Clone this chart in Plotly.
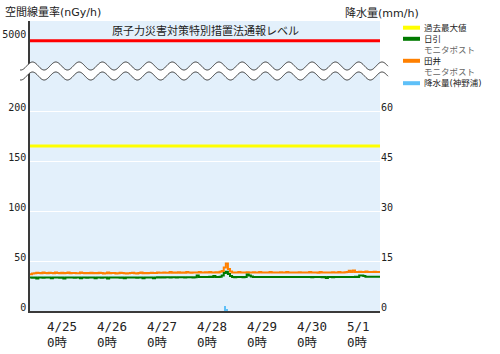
import numpy as np
import pandas as pd
import plotly.graph_objects as go

# ---------------- data ----------------
times = pd.date_range("2013-04-24 16:00", periods=169, freq="h")

# 田井 モニタポスト (nGy/h), hourly
tai = [
    36.8, 37.5, 37.8, 38.2, 37.9, 37.8, 38.4, 37.9,
    37.8, 38.3, 37.9, 37.8, 38.5, 37.9, 37.8, 38.2, 37.8, 37.9, 38.6, 37.8,
    37.9, 38.1, 37.8, 37.8, 38.4, 37.9, 37.8, 38.0, 37.7, 38.3, 37.8, 37.9,
    37.8, 38.2, 37.9, 37.6, 37.8, 38.4, 37.8, 37.9, 38.0, 37.5, 37.8, 38.3,
    37.9, 37.8, 37.4, 37.8, 37.9, 38.2, 37.8, 37.6, 37.9, 38.4, 37.8, 37.9,
    37.7, 38.0, 38.3, 37.9, 38.0, 38.5, 38.2, 38.3, 38.6, 38.2, 38.3, 38.9,
    38.3, 38.4, 38.3, 38.8, 38.3, 38.4, 38.3, 38.9, 38.4, 38.3, 38.6, 38.4,
    38.5, 38.9, 38.5, 38.4, 38.7, 38.5, 39.0, 38.6, 38.5, 38.7, 38.6, 39.2,
    40.0, 43.5, 47.5, 42.0, 39.5, 38.6, 38.5, 38.4, 38.9, 38.5, 38.4, 38.6,
    38.8, 38.6, 38.5, 38.7, 38.4, 38.5, 39.0, 38.5, 38.4, 38.6, 38.5, 39.1,
    38.5, 38.6, 38.4, 38.5, 38.7, 38.4, 38.5, 39.0, 38.5, 38.4, 38.6, 38.5,
    38.5, 38.8, 38.4, 38.5, 38.6, 38.4, 38.9, 38.5, 38.4, 38.5, 38.3, 38.9,
    38.5, 38.4, 38.6, 38.4, 38.5, 38.8, 38.5, 38.4, 39.0, 38.6, 38.5, 38.7,
    39.0, 40.2, 39.0, 40.5, 39.1, 39.0, 39.3, 39.0, 38.9, 39.4, 38.9, 39.0,
    38.9, 39.3, 38.9, 39.0, 38.9,
]

# 日引 モニタポスト (nGy/h), hourly
hibiki = [
    33.5, 33.3, 33.5, 32.6, 33.4, 33.5, 33.3, 33.5,
    33.4, 33.5, 32.7, 33.4, 33.5, 33.4, 33.3, 33.5, 32.6, 33.4, 33.5, 33.6,
    33.4, 33.3, 33.5, 33.4, 32.7, 33.5, 33.4, 33.3, 33.5, 33.4, 33.5, 32.8,
    33.4, 33.5, 33.3, 33.4, 33.5, 32.6, 33.4, 33.5, 33.6, 33.4, 33.5, 33.3,
    33.4, 32.7, 33.5, 33.4, 33.6, 33.5, 33.4, 33.3, 33.5, 33.4, 32.8, 33.5,
    33.4, 33.6, 33.5, 32.7, 33.6, 33.7, 33.6, 33.7, 33.6, 33.8, 33.7, 33.6,
    33.7, 33.8, 33.6, 33.7, 33.8, 33.7, 33.6, 33.7, 33.8, 33.7, 33.6, 33.8,
    35.4, 34.0, 33.9, 34.0, 34.1, 34.0, 34.2, 34.0, 34.9, 34.1, 34.0, 34.2,
    35.5, 38.0, 39.3, 37.0, 35.0, 34.0, 33.8, 34.0, 33.9, 34.0, 33.8, 34.0,
    36.6, 35.5, 34.6, 34.1, 34.0, 34.1, 33.9, 34.0, 34.1, 34.0, 33.9, 34.0,
    34.1, 34.0, 33.9, 34.0, 34.1, 34.0, 33.9, 34.0, 34.1, 34.0, 33.9, 34.0,
    34.0, 33.9, 34.0, 34.1, 34.0, 33.9, 34.0, 33.8, 34.0, 34.1, 33.9, 34.0,
    33.8, 33.9, 33.1, 33.9, 34.0, 33.8, 34.0, 33.9, 34.0, 33.9, 34.0, 34.1,
    34.0, 34.1, 34.0, 34.1, 34.2, 34.0, 35.4, 35.6, 35.0, 34.3, 34.2, 34.3,
    34.2, 34.3, 34.2, 34.3, 34.2,
]

# 降水量 (神野浦) mm/h
rain_times = ["2013-04-28 13:30", "2013-04-28 14:30"]
rain_vals = [1.5, 0.5]

past_max = 165          # 過去最大値 nGy/h
alert_level = 5000      # 通報レベル nGy/h

day_ticks = ["2013-04-25", "2013-04-26", "2013-04-27", "2013-04-28",
             "2013-04-29", "2013-04-30", "2013-05-01"]
day_labels = ["4/25", "4/26", "4/27", "4/28", "4/29", "4/30", "5/1"]
hour_label = "0時"

left_ticks = [0, 50, 100, 150, 200]
right_ticks = [0, 15, 30, 45, 60]

names = ["過去最大値", "日引", "田井", "降水量(神野浦)"]
sub_names = ["", "モニタポスト", "モニタポスト", ""]

# ---------------- layout helpers ----------------
W, H = 500, 354
L, R, T, B = 30, 120, 21, 43
PW, PH = W - L - R, H - T - B


def px(xp):
    return (xp - L) / PW


def py(yp):
    return (H - B - yp) / PH


x_start, x_end = times[0], times[-1]
low_top = 71  # pixel row of break between lower and upper axis
dom_split = py(low_top)

FONT = "DejaVu Sans, Noto Sans CJK JP, sans-serif"
MONO = "DejaVu Sans Mono, Noto Sans CJK JP, monospace"

C_YEL, C_GRN, C_ORG, C_BLU, C_RED = "#FFFF00", "#007A00", "#FF8000", "#5EC0F8", "#FF0000"

fig = go.Figure()

fig.add_trace(go.Scatter(x=[x_start, x_end], y=[past_max, past_max], mode="lines",
                         line=dict(color=C_YEL, width=3), name=names[0],
                         showlegend=False, xaxis="x", yaxis="y"))
fig.add_trace(go.Scatter(x=[x_start, x_end], y=[alert_level, alert_level], mode="lines",
                         line=dict(color=C_RED, width=3), showlegend=False,
                         xaxis="x", yaxis="y3"))
fig.add_trace(go.Scatter(x=times, y=tai, mode="lines", line=dict(color=C_ORG, width=2, shape="hv"),
                         name=names[2], showlegend=False, xaxis="x", yaxis="y"))
fig.add_trace(go.Scatter(x=times, y=hibiki, mode="lines", line=dict(color=C_GRN, width=2, shape="hv"),
                         name=names[1], showlegend=False, xaxis="x", yaxis="y"))
fig.add_trace(go.Bar(x=pd.to_datetime(rain_times), y=rain_vals, width=3600000,
                     marker=dict(color=C_BLU, line=dict(width=0)), name=names[3],
                     showlegend=False, xaxis="x", yaxis="y2"))
# day markers below axis
dot_colors = ["#000000"] * (len(day_ticks) - 1) + [C_RED]
fig.add_trace(go.Scatter(x=pd.to_datetime(day_ticks), y=[-4.5] * len(day_ticks), mode="markers",
                         marker=dict(color=dot_colors, size=4), cliponaxis=False,
                         showlegend=False, hoverinfo="skip", xaxis="x", yaxis="y"))

ax_font = dict(family=MONO, size=10, color="#222")

fig.update_layout(
    width=W, height=H,
    margin=dict(l=L, r=R, t=T, b=B, pad=0, autoexpand=False),
    paper_bgcolor="white",
    plot_bgcolor="#E3F0FB",
    showlegend=False,
    bargap=0,
    xaxis=dict(range=[x_start, x_end], showticklabels=False, ticks="", showgrid=False,
               zeroline=False, showline=True, linecolor="#3a3a3a", linewidth=1.5,
               anchor="y", automargin=False),
    yaxis=dict(domain=[0, dom_split], range=[0, (H - B - low_top)], tickvals=left_ticks,
               showgrid=True, gridcolor="white", gridwidth=1, zeroline=False,
               showline=True, linecolor="#3a3a3a", linewidth=1.5, ticks="",
               tickfont=ax_font, ticklabelshift=-4, ticklabelstandoff=0,
               anchor="x", automargin=False),
    yaxis2=dict(overlaying="y", side="right", range=[0, (H - B - low_top) * 0.3],
                tickvals=right_ticks, showgrid=False, zeroline=False, showline=False,
                ticks="", tickfont=ax_font, ticklabelshift=-4, ticklabelstandoff=0,
                anchor="x", automargin=False),
    yaxis3=dict(domain=[dom_split, 1], range=[alert_level - 10 * (low_top - 40.7),
                                               alert_level + 10 * (40.7 - T)],
                tickvals=[alert_level], showgrid=False, zeroline=False, showline=True,
                linecolor="#3a3a3a", linewidth=1.5, ticks="", tickfont=ax_font,
                ticklabelshift=-6, ticklabelstandoff=0, anchor="x", automargin=False),
)

ann = []
ann.append(dict(text="空間線量率(nGy/h)", x=px(3), y=py(13), xref="paper", yref="paper",
                xanchor="left", yanchor="middle", showarrow=False,
                font=dict(family=FONT, size=11, color="#222")))
ann.append(dict(text="降水量(mm/h)", x=px(343), y=py(13), xref="paper", yref="paper",
                xanchor="left", yanchor="middle", showarrow=False,
                font=dict(family=FONT, size=11, color="#222")))
ann.append(dict(text="原子力災害対策特別措置法通報レベル", x=0.5, y=py(31), xref="paper", yref="paper",
                xanchor="center", yanchor="middle", showarrow=False,
                font=dict(family=FONT, size=11, color="#222")))
for d, lab in zip(day_ticks, day_labels):
    ann.append(dict(text=lab + "<br>" + hour_label, x=d, xref="x", y=py(334), yref="paper",
                    xanchor="left", yanchor="middle", align="left", xshift=-2, showarrow=False,
                    font=dict(family=MONO, size=12.5, color="#222")))

# manual legend
leg_colors = [C_YEL, C_GRN, C_ORG, C_BLU]
sw_y = [27.7, 38.8, 60.8, 83.2]
txt_y = [27.7, 44.3, 66.4, 83.2]
shapes = []
for i in range(4):
    shapes.append(dict(type="line", xref="paper", yref="paper", x0=px(403), x1=px(420),
                       y0=py(sw_y[i]), y1=py(sw_y[i]), line=dict(color=leg_colors[i], width=4)))
    label = names[i] + ("<br><span style='color:#666'>" + sub_names[i] + "</span>" if sub_names[i] else "")
    ann.append(dict(text=label, x=px(422), y=py(txt_y[i]), xref="paper", yref="paper",
                    xanchor="left", yanchor="middle", align="left", showarrow=False,
                    font=dict(family=FONT, size=8.5, color="#222")))

# axis break (wavy band)
xs = np.arange(20, 388.5, 0.5)
period, amp = 23.3, 4.0
up = 66 - amp * np.cos(2 * np.pi * (xs - 32.5) / period)
lo = up + 10


def path_of(xv, yv):
    return "M " + " L ".join(f"{px(a):.5f},{py(b):.5f}" for a, b in zip(xv, yv))


fill_path = path_of(np.concatenate([xs, xs[::-1]]), np.concatenate([up, lo[::-1]])) + " Z"
shapes.append(dict(type="path", path=fill_path, xref="paper", yref="paper",
                   fillcolor="white", line=dict(width=0), layer="above"))
shapes.append(dict(type="path", path=path_of(xs, up), xref="paper", yref="paper",
                   line=dict(color="#333", width=1), layer="above"))
shapes.append(dict(type="path", path=path_of(xs, lo), xref="paper", yref="paper",
                   line=dict(color="#333", width=1), layer="above"))

fig.update_layout(annotations=ann, shapes=shapes)
fig.write_html("out.html")
